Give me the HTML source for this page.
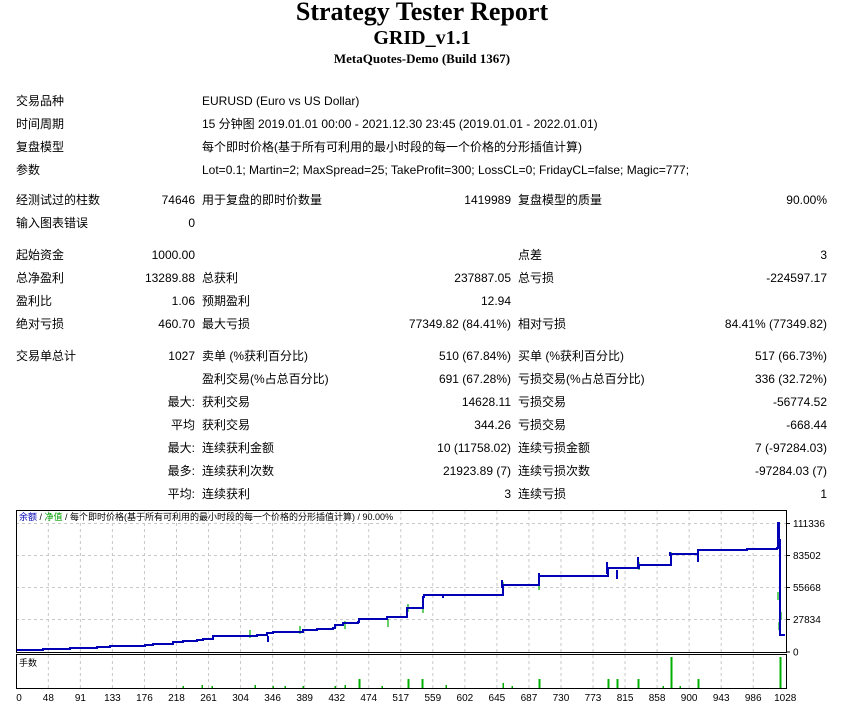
<!DOCTYPE html>
<html><head><meta charset="utf-8"><style>
body{margin:0;width:844px;height:704px;background:#fff;position:relative;overflow:hidden;font-family:"Liberation Sans","Noto Sans CJK SC",sans-serif;font-size:12px;color:#000}
.t{position:absolute;white-space:nowrap;line-height:16px}
.r{text-align:right}
.h{position:absolute;left:0;width:844px;text-align:center;font-family:"Liberation Serif","Noto Serif CJK SC",serif;font-weight:bold;white-space:nowrap}
</style></head><body>
<div class="h" style="top:-3px;font-size:26px;line-height:30px">Strategy Tester Report</div>
<div class="h" style="top:26px;font-size:20px;line-height:24px">GRID_v1.1</div>
<div class="h" style="top:51px;font-size:13px;line-height:16px">MetaQuotes-Demo (Build 1367)</div>
<div id="tbl"></div>
<svg style="position:absolute;left:0;top:0" width="844" height="704" id="ch"></svg>
<script>
var rows=[
[101,"交易品种","", "EURUSD (Euro vs US Dollar)","","",""],
[124,"时间周期","", "15 分钟图 2019.01.01 00:00 - 2021.12.30 23:45 (2019.01.01 - 2022.01.01)","","",""],
[147,"复盘模型","", "每个即时价格(基于所有可利用的最小时段的每一个价格的分形插值计算)","","",""],
[170,"参数","", "Lot=0.1; Martin=2; MaxSpread=25; TakeProfit=300; LossCL=0; FridayCL=false; Magic=777;","","",""],
[200,"经测试过的柱数","74646","用于复盘的即时价数量","1419989","复盘模型的质量","90.00%"],
[223,"输入图表错误","0","","","",""],
[255,"起始资金","1000.00","","","点差","3"],
[278,"总净盈利","13289.88","总获利","237887.05","总亏损","-224597.17"],
[301,"盈利比","1.06","预期盈利","12.94","",""],
[324,"绝对亏损","460.70","最大亏损","77349.82 (84.41%)","相对亏损","84.41% (77349.82)"],
[356,"交易单总计","1027","卖单 (%获利百分比)","510 (67.84%)","买单 (%获利百分比)","517 (66.73%)"],
[379,"","","盈利交易(%占总百分比)","691 (67.28%)","亏损交易(%占总百分比)","336 (32.72%)"],
[402,"","最大:","获利交易","14628.11","亏损交易","-56774.52"],
[425,"","平均","获利交易","344.26","亏损交易","-668.44"],
[448,"","最大:","连续获利金额","10 (11758.02)","连续亏损金额","7 (-97284.03)"],
[471,"","最多:","连续获利次数","21923.89 (7)","连续亏损次数","-97284.03 (7)"],
[494,"","平均:","连续获利","3","连续亏损","1"]];
var h="";
rows.forEach(function(r){var y=r[0]-8;
function L(x,s){if(s)h+='<div class="t" style="left:'+x+'px;top:'+y+'px">'+s+'</div>';}
function R(x,s){if(s)h+='<div class="t r" style="right:'+(844-x)+'px;top:'+y+'px">'+s+'</div>';}
L(16,r[1]);R(195,r[2]);L(202,r[3]);R(511,r[4]);L(518,r[5]);R(827,r[6]);});
document.getElementById("tbl").innerHTML=h;
var s="";
for(var k=1;k<24;k++){var x=16.3+32.04*k;s+='<line x1="'+x+'" y1="511" x2="'+x+'" y2="689" stroke="#c8c8c8" stroke-dasharray="3,3"/>';}
[523.5,555.5,587.5,619.5].forEach(function(y){s+='<line x1="16" y1="'+y+'" x2="787" y2="'+y+'" stroke="#c8c8c8" stroke-dasharray="3,3"/>';});
s+='<rect x="16.5" y="510.5" width="770" height="142" fill="none" stroke="#000"/>';
s+='<rect x="16.5" y="654.5" width="770" height="34" fill="none" stroke="#000"/>';
s+='<rect x="16" y="652" width="771" height="3" fill="#fff"/><line x1="16" y1="652.5" x2="787" y2="652.5" stroke="#000"/><line x1="16" y1="654.5" x2="787" y2="654.5" stroke="#000"/>';
[[523.5,"111336"],[555.5,"83502"],[587.5,"55668"],[619.5,"27834"],[652,"0"]].forEach(function(a){s+='<line x1="787" y1="'+a[0]+'" x2="790" y2="'+a[0]+'" stroke="#000"/><text x="793" y="'+(a[0]+3.5)+'" font-size="10" font-family="Liberation Sans">'+a[1]+'</text>';});
var xl=[0,48,91,133,176,218,261,304,346,389,432,474,517,559,602,645,687,730,773,815,858,900,943,986,1028];
xl.forEach(function(v,k){var x=16.3+32.04*k;s+='<text x="'+(k==0?19:x)+'" y="701" font-size="10" text-anchor="middle" font-family="Liberation Sans">'+v+'</text>';});
var bal=[[17,650],[43,649],[70,648],[97,647],[110,646],[145,645],[153,644],[173,642],[183,641],[197,640],[203,639],[213,636],[257,635],[267,633],[273,632],[303,630],[317,629],[333,628],[335,625],[343,623],[358,622],[359,619],[383,619],[387,617],[407,616],[407,608],[422,608],[423,597],[424,595],[502,595],[503,585],[538,585],[539,576],[607,576],[608,568],[638,568],[639,565],[670,565],[671,554],[697,554],[698,550],[746,550],[747,549],[777,548],[778,523],[779,540],[780,635],[785,635]];
var pts="";bal.forEach(function(p,i){if(i>0)pts+=p[0]+","+bal[i-1][1]+" ";pts+=p[0]+","+p[1]+" ";});
[[408,612],[423,613],[503,590],[539,590],[608,575],[639,570],[671,560],[698,558],[778,600],[779,630],[781,620],[250,638],[300,634],[345,629],[388,627]].forEach(function(g){s+='<line x1="'+g[0]+'" y1="'+(g[1]-8)+'" x2="'+g[0]+'" y2="'+g[1]+'" stroke="#00b000" stroke-width="1.2"/>';});
s+='<polyline points="'+pts+'" fill="none" stroke="#0000b4" stroke-width="2"/>';
[[502,580,8],[539,573,6],[607,562,12],[617,570,9],[638,557,10],[670,552,4],[698,552,10],[443,594,4],[268,636,6]].forEach(function(g){s+='<line x1="'+g[0]+'" y1="'+g[1]+'" x2="'+g[0]+'" y2="'+(g[1]+g[2])+'" stroke="#0000b4" stroke-width="2"/>';});
[[183,2],[202,3],[212,2],[255,3],[273,2],[285,2],[303,2],[335,2],[345,3],[359,9],[382,2],[408,9],[422,9],[446,3],[503,5],[512,2],[539,9],[608,9],[617,9],[638,9],[663,2],[671,31],[680,2],[698,9],[780,31]].forEach(function(v){s+='<rect x="'+(v[0]-0.5)+'" y="'+(688-v[1])+'" width="'+(v[1]>5?2:1.5)+'" height="'+v[1]+'" fill="#00b000"/>';});
s+='<text x="19" y="520" font-size="9" font-family="Liberation Sans,Noto Sans CJK SC,sans-serif"><tspan fill="#0000b4">余额</tspan> / <tspan fill="#00a000">净值</tspan> / 每个即时价格(基于所有可利用的最小时段的每一个价格的分形插值计算) / 90.00%</text>';
s+='<text x="19" y="666" font-size="9" font-family="Liberation Sans,Noto Sans CJK SC,sans-serif">手数</text>';
document.getElementById("ch").innerHTML=s;
</script>
</body></html>
